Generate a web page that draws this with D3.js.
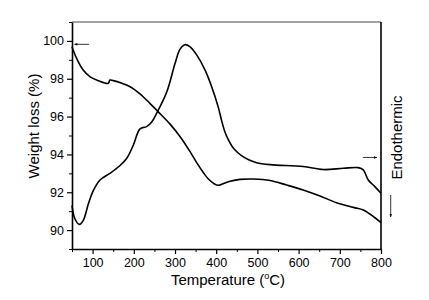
<!DOCTYPE html>
<html>
  <head>
    <meta charset="utf-8">
    <title>TG / DSC</title>
    <script type="text/javascript" src="https://d3js.org/d3.v7.min.js"></script>
    <style type="text/css">
      body { margin: 0; background: #fff; }
      text { font-family: "Liberation Sans", Arial, sans-serif; fill: #000; }
      .axis path, .axis line { stroke: #000; }
      .curve { fill: none; stroke: #000; stroke-width: 1.6px; }
    </style>
  </head>
  <body>
    <script type="text/javascript">
    // Weight loss curve (TG), temperature in degC, value in %
    var tgTemp = [50, 52, 65, 77, 94, 114, 138, 142, 150, 171, 191, 215, 239, 259, 288, 312, 335, 353, 370, 381, 395, 405, 429, 458, 490, 531, 571, 611, 652, 692, 733, 757, 773, 800];
    var tgVal  = [99.7, 99.56, 98.9, 98.46, 98.1, 97.9, 97.76, 97.93, 97.9, 97.76, 97.58, 97.2, 96.7, 96.26, 95.6, 94.95, 94.2, 93.55, 93.0, 92.7, 92.45, 92.37, 92.56, 92.68, 92.7, 92.62, 92.38, 92.12, 91.8, 91.45, 91.2, 91.06, 90.85, 90.4];

    // DSC curve, drawn on the same scale
    var dscTemp = [50, 57, 68, 77, 90, 102, 118, 142, 166, 183, 199, 215, 231, 243, 256, 280, 300, 312, 324, 336, 353, 373, 389, 405, 413, 421, 430, 440, 452, 465, 480, 498, 531, 611, 660, 709, 745, 757, 769, 785, 800];
    var dscVal  = [91.3, 90.6, 90.3, 90.5, 91.4, 92.1, 92.65, 93.0, 93.4, 93.8, 94.5, 95.35, 95.47, 95.7, 96.2, 97.3, 98.8, 99.55, 99.8, 99.7, 99.25, 98.46, 97.58, 96.5, 95.8, 95.2, 94.75, 94.38, 94.1, 93.88, 93.7, 93.56, 93.46, 93.36, 93.2, 93.27, 93.3, 93.18, 92.65, 92.3, 91.95];

    var xTicks = [100, 200, 300, 400, 500, 600, 700, 800];
    var yTicks = [90, 92, 94, 96, 98, 100];

    var W = 429, H = 300;
    var m = {left: 72, top: 22, right: 48, bottom: 51};

    var svg = d3.select("body").append("svg")
                .attr("width", W).attr("height", H);

    var x = d3.scaleLinear().domain([50, 800]).range([m.left, W - m.right]);
    var y = d3.scaleLinear().domain([89, 101]).range([H - m.bottom, m.top]);

    // frame: top thin grey, right thick black
    svg.append("line")
       .attr("x1", x(50)).attr("x2", x(800))
       .attr("y1", y(101)).attr("y2", y(101))
       .attr("stroke", "#444").attr("stroke-width", 1);
    svg.append("line")
       .attr("x1", x(800)).attr("x2", x(800))
       .attr("y1", y(101)).attr("y2", y(89))
       .attr("stroke", "#000").attr("stroke-width", 1.6);

    // minor ticks
    var xMinor = d3.range(50, 801, 50).filter(function(d){ return xTicks.indexOf(d) < 0; });
    var yMinor = d3.range(89, 101.1, 1).filter(function(d){ return yTicks.indexOf(d) < 0; });

    svg.append("g")
       .attr("class", "axis")
       .attr("transform", "translate(0," + y(89) + ")")
       .call(d3.axisBottom(x).tickValues(xMinor).tickSize(3).tickFormat(""))
       .call(function(g){ g.select(".domain").remove(); });
    svg.append("g")
       .attr("class", "axis")
       .attr("transform", "translate(" + x(50) + ",0)")
       .call(d3.axisLeft(y).tickValues(yMinor).tickSize(3).tickFormat(""))
       .call(function(g){ g.select(".domain").remove(); });

    // major axes
    var xAxis = svg.append("g")
       .attr("class", "axis")
       .attr("transform", "translate(0," + y(89) + ")")
       .call(d3.axisBottom(x).tickValues(xTicks).tickSize(5).tickSizeOuter(0).tickPadding(4));
    xAxis.select(".domain").attr("stroke-width", 1.6);
    xAxis.selectAll("line").attr("stroke-width", 1.2);
    xAxis.selectAll("text").style("font-size", "12.5px");

    var yAxis = svg.append("g")
       .attr("class", "axis")
       .attr("transform", "translate(" + x(50) + ",0)")
       .call(d3.axisLeft(y).tickValues(yTicks).tickSize(5).tickSizeOuter(0).tickPadding(3));
    yAxis.select(".domain").attr("stroke-width", 1.6);
    yAxis.selectAll("line").attr("stroke-width", 1.2);
    yAxis.selectAll("text").style("font-size", "12.5px");

    // curves
    var line = d3.line()
                 .x(function(d){ return x(d[0]); })
                 .y(function(d){ return y(d[1]); })
                 .curve(d3.curveCatmullRom.alpha(0.5));

    svg.append("path").attr("class", "curve")
       .attr("d", line(d3.zip(tgTemp, tgVal)));
    svg.append("path").attr("class", "curve")
       .attr("d", line(d3.zip(dscTemp, dscVal)));

    // arrows
    var defs = svg.append("defs");
    defs.append("marker")
        .attr("id", "head")
        .attr("viewBox", "0 0 10 10")
        .attr("refX", 9).attr("refY", 5)
        .attr("markerWidth", 5).attr("markerHeight", 4)
        .attr("orient", "auto")
        .append("path").attr("d", "M0,1 L10,5 L0,9 z").attr("fill", "#000");

    function arrow(x1, y1, x2, y2) {
      svg.append("line")
         .attr("x1", x1).attr("y1", y1).attr("x2", x2).attr("y2", y2)
         .attr("stroke", "#000").attr("stroke-width", 0.8)
         .attr("marker-end", "url(#head)");
    }
    arrow(x(91), y(99.82), x(56), y(99.82));
    arrow(x(756), y(93.84), x(790), y(93.84));
    arrow(390.7, 195, 390.7, 217);

    // titles
    svg.append("text")
       .attr("transform", "translate(38.5,126) rotate(-90)")
       .attr("text-anchor", "middle")
       .style("font-size", "15px")
       .text("Weight loss (%)");

    var xt = svg.append("text")
       .attr("x", 228)
       .attr("y", 285)
       .attr("text-anchor", "middle")
       .style("font-size", "15px");
    xt.append("tspan").text("Temperature (");
    xt.append("tspan").attr("dy", -6).style("font-size", "9px").text("o");
    xt.append("tspan").attr("dy", 6).text("C)");

    svg.append("text")
       .attr("transform", "translate(402,137.5) rotate(-90)")
       .attr("text-anchor", "middle")
       .style("font-size", "15px")
       .text("Endothermic");
    </script>
  </body>
</html>
